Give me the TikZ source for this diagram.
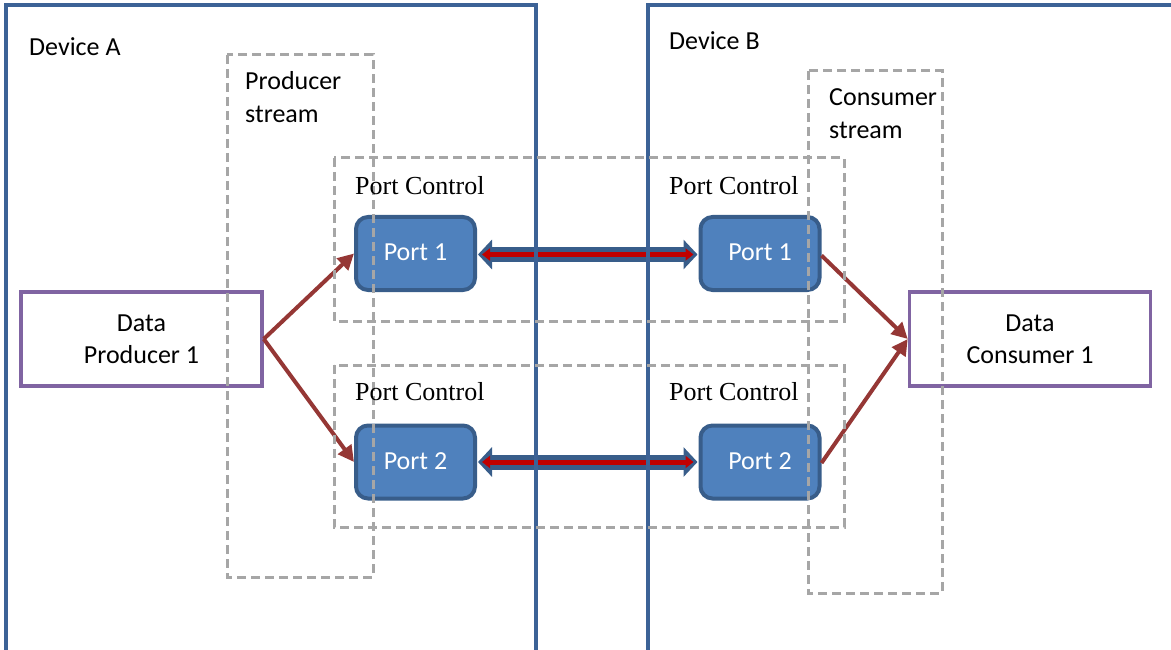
\documentclass[tikz,border=0pt]{standalone}
\usepackage{fontspec}
\setmainfont{Carlito}
\newfontfamily\timesf{Liberation Serif}
\usetikzlibrary{arrows.meta}
\definecolor{devblue}{HTML}{3C6296}
\definecolor{portfill}{HTML}{4F81BD}
\definecolor{portdraw}{HTML}{385D8A}
\definecolor{dataline}{HTML}{8064A2}
\definecolor{arrowred}{HTML}{953735}
\definecolor{dashgray}{HTML}{A6A6A6}
\definecolor{corered}{HTML}{C00000}
\tikzset{
  devbox/.style={draw=devblue, line width=4.5pt},
  dashbox/.style={draw=dashgray, line width=3pt, dash pattern=on 9pt off 5pt},
  portbox/.style={draw=portdraw, fill=portfill, line width=4pt, rounded corners=12pt, minimum width=119pt, minimum height=73pt, inner sep=0pt, text=white, font=\fontsize{26}{30}\selectfont},
  databox/.style={draw=dataline, line width=3.5pt, minimum width=241pt, minimum height=94pt, inner sep=0pt, align=center, font=\fontsize{26}{32}\selectfont},
  lbl/.style={anchor=west, inner sep=0pt, font=\fontsize{26}{33}\selectfont, align=left},
  pclbl/.style={anchor=west, inner sep=0pt, font=\timesf\fontsize{26}{30}\selectfont},
  flow/.style={draw=arrowred, line width=4pt, -{Triangle[length=16pt,width=16pt]}},
  linkout/.style={draw=portdraw, line width=15pt, {Triangle[length=14pt,width=29pt]}-{Triangle[length=14pt,width=29pt]}, shorten <=1pt, shorten >=1pt},
  linkin/.style={draw=corered, line width=5pt, {Triangle[length=8pt,width=12pt]}-{Triangle[length=8pt,width=12pt]}, shorten <=5pt, shorten >=5pt}
}
\begin{document}
\begin{tikzpicture}[x=1pt,y=-1pt]
\useasboundingbox (0,0) rectangle (1171,650);
\clip (0,0) rectangle (1171,650);
% ports and data boxes
\node[portbox] (p1a) at (415.5,253.5) {\raisebox{2pt}{Port 1}};
\node[portbox] (p1b) at (760,253.5) {\raisebox{2pt}{Port 1}};
\node[portbox] (p2a) at (415.5,462) {\raisebox{2pt}{Port 2}};
\node[portbox] (p2b) at (760,462) {\raisebox{2pt}{Port 2}};
\node[databox] (prod) at (141.5,339) {Data\\Producer 1};
\node[databox] (cons) at (1030,339) {Data\\Consumer 1};
% links between ports
\draw[linkout] ([yshift=-1pt]p1a.east) -- ([yshift=-1pt]p1b.west);
\draw[linkin] ([yshift=-1pt]p1a.east) -- ([yshift=-1pt]p1b.west);
\draw[linkout] (p2a.east) -- (p2b.west);
\draw[linkin] (p2a.east) -- (p2b.west);
% flows
\draw[flow] (prod.east) -- (p1a.west);
\draw[flow] (prod.east) -- (p2a.west);
\draw[flow] ([yshift=-2pt]p1b.east) -- (cons.west);
\draw[flow] ([yshift=-1pt]p2b.east) -- (cons.west);
% devices
\draw[devbox] (6,5) rectangle (536,660);
\draw[devbox] (648,5) rectangle (1190,660);
\node[lbl] (devA) at (29,47) {Device A};
\node[lbl] (devB) at (669,41) {Device B};
% streams
\draw[dashbox] (227,55) rectangle (373,577);
\draw[dashbox] (808,71) rectangle (942,593);
\node[lbl, anchor=north west] (pstr) at (245,71) {Producer\\stream};
\node[lbl, anchor=north west] (cstr) at (829,88) {Consumer\\stream};
% port controls
\draw[dashbox] (334,158) rectangle (844,321);
\draw[dashbox] (334,365) rectangle (844,527);
\node[pclbl] (pc1a) at (355,186) {Port Control};
\node[pclbl] (pc1b) at (669,186) {Port Control};
\node[pclbl] (pc2a) at (355,392) {Port Control};
\node[pclbl] (pc2b) at (669,392) {Port Control};
\end{tikzpicture}
\end{document}
